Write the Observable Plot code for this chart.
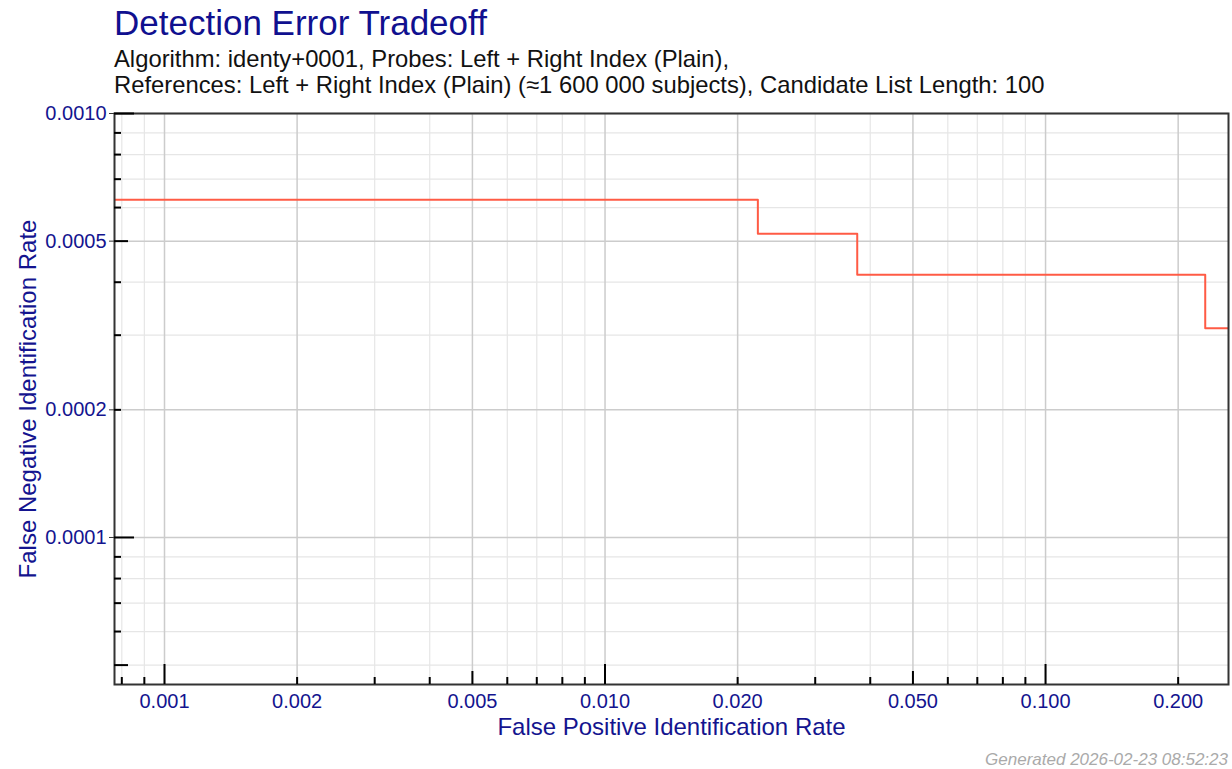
<!DOCTYPE html>
<html><head><meta charset="utf-8">
<script src="https://cdn.jsdelivr.net/npm/d3@7"></script>
<script src="https://cdn.jsdelivr.net/npm/@observablehq/plot@0.6"></script>
<style>
body{margin:0;background:#fff;font-family:"Liberation Sans",Arial,sans-serif;}
#wrap{position:relative;width:1232px;height:769px;overflow:hidden;}
#title{position:absolute;left:114px;top:5px;font-size:35px;line-height:35px;color:#10108f;white-space:nowrap;}
#sub{position:absolute;left:114px;top:46px;font-size:23.8px;line-height:26px;color:#111;white-space:nowrap;}
#chart{position:absolute;left:0;top:100px;}
#cap{position:absolute;right:4px;top:751px;font-size:17px;line-height:17px;font-style:italic;color:#aaa;white-space:nowrap;}
</style></head>
<body>
<div id="wrap">
  <div id="title">Detection Error Tradeoff</div>
  <div id="sub">Algorithm: identy+0001, Probes: Left + Right Index (Plain),<br>References: Left + Right Index (Plain) (≈1 600 000 subjects), Candidate List Length: 100</div>
  <div id="chart"></div>
  <div id="cap">Generated 2026-02-23 08:52:23</div>
</div>
<script>
// Data
const fpir = [0.00077, 0.02223, 0.03737, 0.2304, 0.2602];
const fnir = [0.0006257, 0.0005202, 0.0004164, 0.0003115, 0.0003115];

const xDomain = [0.00077, 0.2602];
const yDomain = [0.000045, 0.001];

const xLabelTicks = [0.001, 0.002, 0.005, 0.01, 0.02, 0.05, 0.1, 0.2];
const xMajorTicks = [0.001, 0.01, 0.1];
const xMidTicks = [0.005, 0.05];
const xMinorTicks = [0.0008, 0.0009, 0.002, 0.003, 0.004, 0.006, 0.007, 0.008, 0.009, 0.02, 0.03, 0.04, 0.06, 0.07, 0.08, 0.09, 0.2];
const xGridMinor = [0.0008, 0.0009, 0.003, 0.004, 0.006, 0.007, 0.008, 0.009, 0.03, 0.04, 0.06, 0.07, 0.08, 0.09];

const yLabelTicks = [0.001, 0.0005, 0.0002, 0.0001];
const yMajorTicks = [0.001, 0.0001];
const yMidTicks = [0.0005, 0.00005];
const yMinorTicks = [0.0009, 0.0008, 0.0007, 0.0006, 0.0004, 0.0003, 0.0002, 0.00009, 0.00008, 0.00007, 0.00006];
const yGridMinor = [0.0009, 0.0008, 0.0007, 0.0006, 0.0004, 0.0003, 0.00009, 0.00008, 0.00007, 0.00006, 0.00005];

const xTitle = "False Positive Identification Rate";
const yTitle = "False Negative Identification Rate";

const points = fpir.map((x, i) => ({x, y: fnir[i]}));
const blue = "#14148f";
const empty = () => "";

const chart = Plot.plot({
  width: 1232,
  height: 645,
  marginTop: 13,
  marginBottom: 61,
  marginLeft: 114,
  marginRight: 4,
  style: {fontFamily: "Liberation Sans, Arial, sans-serif", background: "white", overflow: "visible"},
  x: {type: "log", domain: xDomain},
  y: {type: "log", domain: yDomain},
  marks: [
    Plot.gridX(xGridMinor, {stroke: "#e6e6e6", strokeOpacity: 1, strokeWidth: 1.2}),
    Plot.gridY(yGridMinor, {stroke: "#e6e6e6", strokeOpacity: 1, strokeWidth: 1.2}),
    Plot.gridX(xLabelTicks, {stroke: "#cccccc", strokeOpacity: 1, strokeWidth: 1.5}),
    Plot.gridY(yLabelTicks, {stroke: "#cccccc", strokeOpacity: 1, strokeWidth: 1.5}),
    Plot.line(points, {x: "x", y: "y", curve: "step-after", stroke: "#ff5b45", strokeWidth: 2, clip: true}),
    Plot.frame({stroke: "#333", strokeWidth: 2}),
    Plot.axisX(xMajorTicks, {tickSize: -20, tickFormat: empty, label: null, stroke: "#000", strokeWidth: 2}),
    Plot.axisX(xMidTicks, {tickSize: -13, tickFormat: empty, label: null, stroke: "#000", strokeWidth: 2}),
    Plot.axisX(xMinorTicks, {tickSize: -7, tickFormat: empty, label: null, stroke: "#000", strokeWidth: 2}),
    Plot.axisX(xLabelTicks, {tickSize: 0, tickPadding: 9, tickFormat: d3.format(".3f"), label: null, fontSize: 20, fill: blue}),
    Plot.axisY(yMajorTicks, {tickSize: -20, tickFormat: empty, label: null, stroke: "#000", strokeWidth: 2}),
    Plot.axisY(yMidTicks, {tickSize: -14, tickFormat: empty, label: null, stroke: "#000", strokeWidth: 2}),
    Plot.axisY(yMinorTicks, {tickSize: -7, tickFormat: empty, label: null, stroke: "#000", strokeWidth: 2}),
    Plot.axisY(yLabelTicks, {tickSize: 5, tickPadding: 3, tickFormat: d3.format(".4f"), label: null, fontSize: 20, fill: blue, stroke: "#333"}),
    Plot.text([xTitle], {text: d => d, frameAnchor: "bottom", dy: 43, lineAnchor: "middle", textAnchor: "middle", fontSize: 24, fill: blue}),
    Plot.text([yTitle], {text: d => d, frameAnchor: "left", dx: -86, rotate: -90, lineAnchor: "middle", textAnchor: "middle", fontSize: 24, fill: blue})
  ]
});
document.getElementById("chart").appendChild(chart);
</script>
</body></html>
